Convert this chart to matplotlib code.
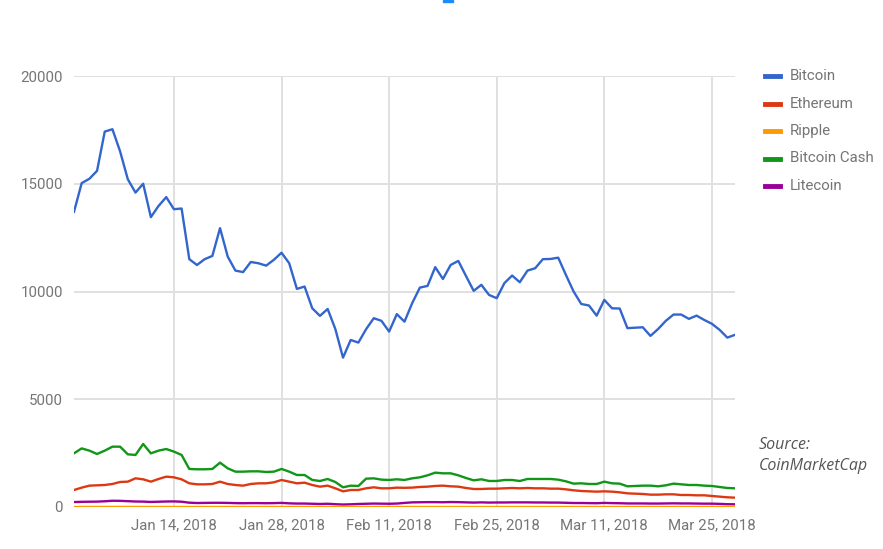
import matplotlib
matplotlib.use('Agg')

from matplotlib import pyplot as plt
from matplotlib.lines import Line2D
from matplotlib.patches import Rectangle
import pandas as pd

# Datas (diárias, 1 jan a 28 mar 2018)
datas = pd.date_range('2018-01-01', '2018-03-28', freq='D')

bitcoin = [13700, 15030, 15230, 15600, 17420, 17530, 16500, 15210, 14590, 15000,
           13450, 13970, 14380, 13820, 13850, 11500, 11230, 11500, 11650, 12940,
           11620, 10970, 10900, 11370, 11310, 11200, 11470, 11800, 11310, 10120,
           10230, 9220, 8870, 9190, 8260, 6930, 7750, 7630, 8250, 8760,
           8640, 8140, 8950, 8600, 9460, 10180, 10260, 11130, 10580, 11230,
           11420, 10720, 10030, 10310, 9840, 9690, 10390, 10740, 10430, 10970,
           11080, 11500, 11510, 11570, 10770, 10000, 9420, 9350, 8880, 9610,
           9220, 9210, 8300, 8320, 8340, 7940, 8260, 8640, 8930, 8930,
           8730, 8880, 8680, 8500, 8220, 7860, 7990]

ethereum = [789, 898, 991, 1006, 1021, 1068, 1161, 1176, 1331, 1284,
            1176, 1300, 1408, 1377, 1284, 1099, 1052, 1052, 1068, 1176,
            1068, 1021, 991, 1068, 1099, 1099, 1145, 1253, 1176, 1099,
            1130, 1021, 944, 991, 867, 727, 789, 789, 867, 913,
            867, 867, 898, 890, 900, 929, 944, 975, 991, 960,
            944, 882, 836, 836, 851, 851, 867, 882, 867, 882,
            867, 867, 851, 851, 820, 774, 743, 727, 712, 727,
            712, 681, 634, 619, 604, 573, 573, 588, 588, 557,
            557, 542, 542, 511, 480, 450, 433]

ripple = [2.3, 2.4, 2.6, 3.1, 3.2, 3.0, 2.7, 2.2, 2.0, 2.1, 1.7, 1.8, 2.0, 1.9, 1.9,
          1.6, 1.5, 1.6, 1.6, 1.7, 1.6, 1.4, 1.3, 1.3, 1.3, 1.2, 1.3, 1.4, 1.3, 1.1, 1.1,
          0.96, 0.91, 0.92, 0.80, 0.68, 0.77, 0.78, 0.88, 1.0, 1.0, 0.96, 1.05, 1.1, 1.2,
          1.15, 1.2, 1.15, 1.1, 1.05, 1.0, 0.95, 0.92, 0.93, 0.92, 0.92, 0.95, 0.98, 0.95,
          0.93, 0.92, 0.91, 0.93, 0.95, 0.90, 0.85, 0.80, 0.80, 0.78, 0.82, 0.78, 0.75, 0.70,
          0.72, 0.72, 0.69, 0.69, 0.70, 0.71, 0.68, 0.67, 0.64, 0.63, 0.62, 0.60, 0.56, 0.55]

bitcoin_cash = [2490, 2720, 2615, 2460, 2615, 2800, 2800, 2445, 2415, 2925,
                2490, 2615, 2690, 2570, 2415, 1765, 1750, 1750, 1765, 2058,
                1795, 1640, 1640, 1655, 1655, 1625, 1640, 1765, 1640, 1485,
                1485, 1255, 1207, 1300, 1160, 913, 990, 975, 1315, 1330,
                1270, 1255, 1285, 1255, 1330, 1377, 1470, 1594, 1563, 1563,
                1470, 1346, 1238, 1285, 1207, 1207, 1253, 1253, 1207, 1300,
                1300, 1300, 1300, 1269, 1191, 1084, 1099, 1068, 1068, 1176,
                1099, 1084, 960, 975, 991, 991, 960, 1006, 1084, 1053,
                1021, 1021, 991, 975, 929, 882, 867]

litecoin = [230, 240, 245, 250, 265, 290, 285, 270, 255, 250, 235, 245, 255, 260, 245,
            200, 185, 190, 195, 195, 190, 180, 175, 180, 180, 175, 180, 190, 170, 160, 160,
            150, 140, 150, 130, 115, 125, 140, 150, 160, 155, 150, 160, 190, 215,
            220, 225, 225, 220, 230, 225, 215, 205, 215, 205, 210, 210, 215, 215,
            215, 210, 210, 205, 205, 195, 185, 185, 180, 175, 190, 180, 175, 165,
            165, 165, 160, 160, 165, 170, 165, 165, 160, 155, 155, 145, 130, 125]

nomes = ['Bitcoin', 'Ethereum', 'Ripple', 'Bitcoin Cash', 'Litecoin']
cores = ['#3366cc', '#dc3912', '#ff9900', '#109618', '#990099']
series = [bitcoin, ethereum, ripple, bitcoin_cash, litecoin]

ticks_x = pd.to_datetime(['2018-01-14', '2018-01-28', '2018-02-11',
                          '2018-02-25', '2018-03-11', '2018-03-25'])
ticks_y = [0, 5000, 10000, 15000, 20000]

plt.rcParams['font.family'] = ['Roboto', 'DejaVu Sans']

fig = plt.figure(figsize=(8.83, 5.49), dpi=100)
ax = fig.add_axes([74 / 883, 42 / 549, 661 / 883, 431 / 549])

ax.axhline(0, color='#333333', lw=1.2, zorder=1)
# desenha na ordem inversa para o Bitcoin ficar por cima
for nome, cor, valores in reversed(list(zip(nomes, cores, series))):
    ax.plot(datas, valores, color=cor, lw=1.7, label=nome, zorder=3,
            solid_joinstyle='round')

ax.set_xlim(datas[0], datas[-1])
ax.set_ylim(0, 20000)
ax.set_xticks(ticks_x)
ax.set_xticklabels([d.strftime('%b %d, %Y').replace(' 0', ' ') for d in ticks_x])
ax.set_yticks(ticks_y)
ax.set_yticklabels([str(v) for v in ticks_y])
ax.grid(True, color='#e0e0e0', lw=1.4)
ax.set_axisbelow(True)
for s in ax.spines.values():
    s.set_visible(False)
ax.tick_params(length=0, colors='#757575', labelsize=10.8)
ax.tick_params(axis='x', pad=8)
ax.tick_params(axis='y', pad=8)

# Legenda manual à direita
for i, (nome, cor) in enumerate(zip(nomes, cores)):
    y = 1 - (76 + i * 27.5) / 549
    fig.add_artist(Line2D([765 / 883, 780 / 883], [y, y], color=cor, lw=3.5,
                          transform=fig.transFigure))
    fig.text(790 / 883, y, nome, color='#757575', fontsize=10.8, va='center')

fig.text(759 / 883, 1 - 445 / 549, 'Source:', family='Open Sans', style='italic',
         color='#555555', fontsize=11.5, va='center')
fig.text(759 / 883, 1 - 466 / 549, 'CoinMarketCap', family='Open Sans', style='italic',
         color='#555555', fontsize=11.5, va='center')

# pedaço azul cortado no topo
fig.add_artist(Rectangle((443 / 883, 1 - 2 / 549), 10 / 883, 2 / 549,
                         color='#1a8cff', transform=fig.transFigure))

fig.savefig('out.png', dpi=100)
